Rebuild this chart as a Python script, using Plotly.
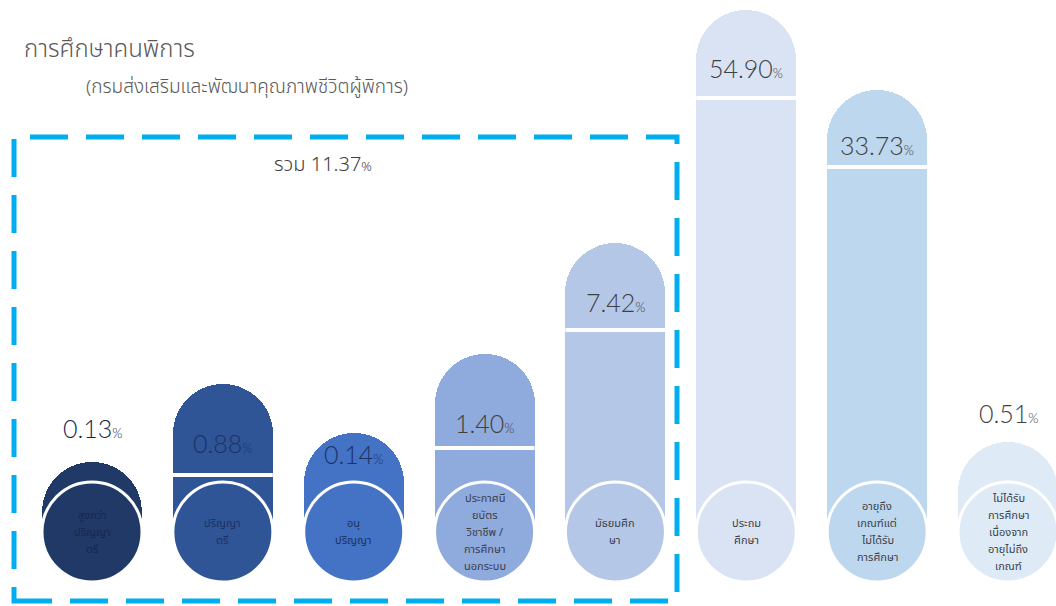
import plotly.graph_objects as go

categories = [
    "สูงกว่า<br>ปริญญา<br>ตรี",
    "ปริญญา<br>ตรี",
    "อนุ<br>ปริญญา",
    "ประกาศนี<br>ยบัตร<br>วิชาชีพ /<br>การศึกษา<br>นอกระบบ",
    "มัธยมศึก<br>ษา",
    "ประถม<br>ศึกษา",
    "อายุถึง<br>เกณฑ์แต่<br>ไม่ได้รับ<br>การศึกษา",
    "ไม่ได้รับ<br>การศึกษา<br>เนื่องจาก<br>อายุไม่ถึง<br>เกณฑ์",
]
percent = [0.13, 0.88, 0.14, 1.40, 7.42, 54.90, 33.73, 0.51]
# drawn height of each pill (the graphic is not to scale)
pill_height = [70, 148, 99, 178, 289, 522, 442, 90]
group_total = 11.37

# styling / label placement (px relative to the pill top)
colors = ["#213966", "#2f5597", "#4472c4", "#8faadc",
          "#b4c7e7", "#dae3f3", "#bdd7ee", "#deebf7"]
label_colors = ["#15284d", "#1b3263", "#1b3263", "#3a3f4a",
                "#3a3f4a", "#3a3f4a", "#3a3f4a", "#3a3f4a"]
value_dy = [34, -59, -21, -69, -59, -58, -55, 29]
divider_dy = [None, -91, None, -94, -87, -88, -77, None]

W, H = 1056, 606
px_per_x = 130.86
bar_w = 100 / px_per_x
x = list(range(len(categories)))
thai_font = "Noto Sans Thai, Noto Sans, DejaVu Sans, sans-serif"
num_font = "Lato, Noto Sans, sans-serif"
line_step = 17

fig = go.Figure()

fig.add_trace(go.Bar(
    x=x, y=pill_height, width=bar_w,
    marker=dict(color=colors, line=dict(width=0), cornerradius="50%"),
    hoverinfo="skip", showlegend=False,
))

# bottom discs holding the category names
fig.add_trace(go.Scatter(
    x=x, y=[0] * len(x), mode="markers",
    marker=dict(size=100, color=colors, line=dict(color="white", width=3)),
    hoverinfo="skip", showlegend=False,
))

for i, (cat, pct, h) in enumerate(zip(categories, percent, pill_height)):
    lines = cat.split("<br>")
    for k, ln in enumerate(lines):
        fig.add_annotation(
            x=i, y=((len(lines) - 1) / 2 - k) * line_step, text=ln, showarrow=False,
            font=dict(family=thai_font, size=11, color=label_colors[i]),
            borderpad=0,
        )
    if divider_dy[i] is not None:
        # white divider under the value area
        fig.add_shape(
            type="line", xref="x", yref="y",
            x0=i - bar_w / 2, x1=i + bar_w / 2,
            y0=h + divider_dy[i], y1=h + divider_dy[i],
            line=dict(color="white", width=4),
        )
    fig.add_annotation(
        x=i, y=h + value_dy[i], showarrow=False,
        text=f"{pct:.2f}<span style='font-size:13px'>%</span>",
        font=dict(family=num_font, size=25,
                  color=label_colors[i] if i < 3 else "#404040", weight=300),
    )

# dashed box around the higher-education group
fig.add_shape(
    type="rect", xref="paper", yref="paper",
    x0=14 / W, x1=677 / W, y0=(H - 601) / H, y1=(H - 137) / H,
    line=dict(color="#00aeef", width=5, dash="38px,18px"),
)

fig.add_annotation(
    xref="paper", yref="paper", x=272 / W, y=(H - 165) / H,
    xanchor="left", yanchor="middle", showarrow=False,
    text=f"รวม {group_total:.2f}<span style='font-size:13px'>%</span>",
    font=dict(family=thai_font, size=20, color="#404040", weight=300),
)
fig.add_annotation(
    xref="paper", yref="paper", x=22 / W, y=(H - 50) / H,
    xanchor="left", yanchor="middle", showarrow=False,
    text="การศึกษาคนพิการ",
    font=dict(family=thai_font, size=24, color="#595959", weight=300),
)
fig.add_annotation(
    xref="paper", yref="paper", x=84 / W, y=(H - 87) / H,
    xanchor="left", yanchor="middle", showarrow=False,
    text="(กรมส่งเสริมและพัฒนาคุณภาพชีวิตผู้พิการ)",
    font=dict(family=thai_font, size=19, color="#595959", weight=300),
)

fig.update_xaxes(range=[-92 / px_per_x, (W - 92) / px_per_x], visible=False)
fig.update_yaxes(range=[-74, H - 74], visible=False)
fig.update_layout(
    width=W, height=H,
    margin=dict(l=0, r=0, t=0, b=0),
    plot_bgcolor="white", paper_bgcolor="white",
    bargap=0,
)

# drop the default page margin so the figure sits at the window corner
fig.write_html("out.html", config={"displayModeBar": False},
               post_script="document.body.style.margin='0';")
